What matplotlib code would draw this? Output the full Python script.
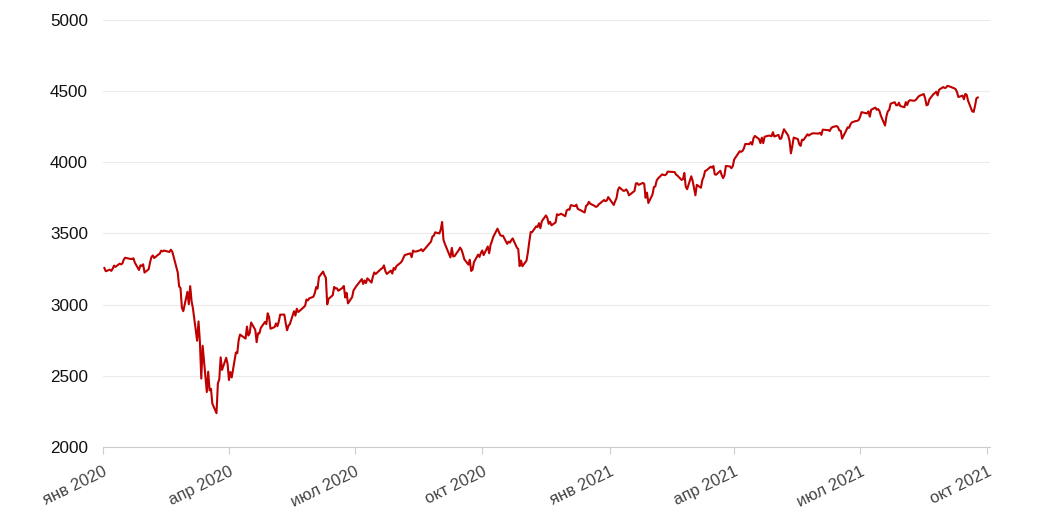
import matplotlib
matplotlib.use("Agg")
import matplotlib.pyplot as plt
import pandas as pd

# ---------------- data ----------------
start_date = "2020-01-02"
end_date = "2021-09-24"
market_holidays = ["2020-01-20", "2020-02-17", "2020-04-10", "2020-05-25", "2020-07-03",
                   "2020-09-07", "2020-11-26", "2020-12-25", "2021-01-01", "2021-01-18",
                   "2021-02-15", "2021-04-02", "2021-05-31", "2021-07-05", "2021-09-06"]

close_2020 = [
    # Jan
    3257.85, 3234.85, 3246.28, 3237.18, 3253.05, 3274.70, 3265.35, 3288.13, 3283.15, 3289.29,
    3316.81, 3329.62, 3320.79, 3321.75, 3325.54, 3295.47, 3243.63, 3276.24, 3273.40, 3283.66, 3225.52,
    # Feb
    3248.92, 3297.59, 3334.69, 3345.78, 3327.71, 3352.09, 3357.75, 3379.45, 3373.94, 3380.16,
    3370.29, 3386.15, 3373.23, 3337.75, 3225.89, 3128.21, 3116.39, 2978.76, 2954.22,
    # Mar
    3090.23, 3003.37, 3130.12, 3023.94, 2972.37, 2746.56, 2882.23, 2741.38, 2480.64, 2711.02,
    2386.13, 2529.19, 2398.10, 2409.39, 2304.92, 2237.40, 2447.33, 2475.56, 2630.07, 2541.47,
    2626.65, 2584.59,
    # Apr
    2470.50, 2526.90, 2488.65, 2663.68, 2659.41, 2749.98, 2789.82, 2761.63, 2846.06, 2783.36,
    2799.55, 2874.56, 2823.16, 2736.56, 2799.31, 2797.80, 2836.74, 2878.48, 2863.39, 2939.51, 2912.43,
    # May
    2830.71, 2842.74, 2868.44, 2848.42, 2881.19, 2929.80, 2930.32, 2870.12, 2820.00, 2852.50,
    2863.70, 2953.91, 2922.94, 2971.61, 2948.51, 2955.45, 2991.77, 3036.13, 3029.73, 3044.31,
    # Jun
    3055.73, 3080.82, 3122.87, 3112.35, 3193.93, 3232.39, 3207.18, 3190.14, 3002.10, 3041.31,
    3066.59, 3124.74, 3113.49, 3115.34, 3097.74, 3117.86, 3131.29, 3050.33, 3083.76, 3009.05,
    3053.24, 3100.29,
    # Jul
    3115.86, 3130.01, 3179.72, 3145.32, 3169.94, 3152.05, 3185.04, 3155.22, 3197.52, 3226.56,
    3215.57, 3224.73, 3251.84, 3257.30, 3276.02, 3235.66, 3215.63, 3239.41, 3218.44, 3258.44,
    3246.22, 3271.12,
    # Aug
    3294.61, 3306.51, 3327.77, 3349.16, 3351.28, 3360.47, 3333.69, 3380.35, 3373.43, 3372.85,
    3381.99, 3389.78, 3374.85, 3385.51, 3397.16, 3431.28, 3443.62, 3478.73, 3484.55, 3508.01, 3500.31,
    # Sep
    3526.65, 3580.84, 3455.06, 3426.96, 3331.84, 3398.96, 3339.19, 3340.97, 3383.54, 3401.20,
    3385.49, 3357.01, 3319.47, 3281.06, 3315.57, 3236.92, 3246.59, 3298.46, 3351.60, 3335.47, 3363.00,
    # Oct
    3380.80, 3348.42, 3408.60, 3360.97, 3419.44, 3446.83, 3477.14, 3534.22, 3511.93, 3488.67,
    3483.34, 3483.81, 3426.92, 3443.12, 3435.56, 3453.49, 3465.39, 3400.97, 3390.68, 3271.03,
    3310.11, 3269.96,
    # Nov
    3310.24, 3369.16, 3443.44, 3510.45, 3509.44, 3550.50, 3545.53, 3572.66, 3537.01, 3585.15,
    3626.91, 3609.53, 3567.79, 3581.87, 3557.54, 3577.59, 3635.41, 3629.65, 3638.35, 3621.63,
    # Dec
    3662.45, 3669.01, 3666.72, 3699.12, 3691.96, 3702.25, 3672.82, 3668.10, 3663.46, 3647.49,
    3694.62, 3701.17, 3722.48, 3709.41, 3694.92, 3687.26, 3690.01, 3703.06, 3735.36, 3727.04,
    3732.04, 3756.07,
]

close_2021 = [
    # Jan
    3700.65, 3726.86, 3748.14, 3803.79, 3824.68, 3799.61, 3801.19, 3809.84, 3795.54, 3768.25,
    3798.91, 3851.85, 3853.07, 3841.47, 3855.36, 3849.62, 3750.77, 3787.38, 3714.24,
    # Feb
    3773.86, 3826.31, 3830.17, 3871.74, 3886.83, 3915.59, 3911.23, 3909.88, 3916.38, 3934.83,
    3932.59, 3931.33, 3913.97, 3906.71, 3876.50, 3881.37, 3925.43, 3829.34, 3811.15,
    # Mar
    3901.82, 3870.29, 3819.72, 3768.47, 3841.94, 3821.35, 3875.44, 3898.81, 3939.34, 3943.34,
    3968.94, 3962.71, 3974.12, 3915.46, 3913.10, 3940.59, 3910.52, 3889.14, 3909.52, 3974.54,
    3971.09, 3958.55, 3972.89,
    # Apr
    4019.87, 4077.91, 4073.94, 4079.95, 4097.17, 4128.80, 4127.99, 4141.59, 4124.66, 4170.42,
    4185.47, 4163.26, 4134.94, 4173.42, 4134.98, 4180.17, 4187.62, 4186.72, 4183.18, 4211.47, 4181.17,
    # May
    4192.66, 4164.66, 4167.59, 4201.62, 4232.60, 4188.43, 4152.10, 4063.04, 4112.50, 4173.85,
    4163.29, 4127.83, 4115.68, 4159.12, 4155.86, 4197.05, 4188.13, 4195.99, 4200.88, 4204.11,
    # Jun
    4202.04, 4208.12, 4192.85, 4229.89, 4226.52, 4227.26, 4219.55, 4239.18, 4247.44, 4255.15,
    4246.59, 4223.70, 4221.86, 4166.45, 4224.79, 4246.44, 4241.84, 4266.49, 4280.70, 4290.61,
    4291.80, 4297.50,
    # Jul
    4319.94, 4352.34, 4343.54, 4358.13, 4320.82, 4369.55, 4384.63, 4369.21, 4374.30, 4360.03,
    4327.16, 4258.49, 4323.06, 4358.69, 4367.48, 4411.79, 4422.30, 4401.46, 4400.64, 4419.15, 4395.26,
    # Aug
    4387.16, 4423.15, 4402.66, 4429.10, 4436.52, 4432.35, 4436.75, 4447.70, 4460.83, 4468.00,
    4479.71, 4448.08, 4400.27, 4405.80, 4441.67, 4479.53, 4486.23, 4496.19, 4470.00, 4509.37,
    4528.79, 4522.68,
    # Sep
    4524.09, 4536.95, 4535.43, 4520.03, 4514.07, 4493.28, 4458.58, 4468.73, 4443.05, 4480.70,
    4473.75, 4432.99, 4357.73, 4354.19, 4395.64, 4448.98, 4455.48,
]

tick_dates = ["2020-01-01", "2020-04-01", "2020-07-01", "2020-10-01",
              "2021-01-01", "2021-04-01", "2021-07-01", "2021-10-01"]
tick_labels = ["янв 2020", "апр 2020", "июл 2020", "окт 2020",
               "янв 2021", "апр 2021", "июл 2021", "окт 2021"]
y_ticks = [2000, 2500, 3000, 3500, 4000, 4500, 5000]

# ---------------- build ----------------
bday = pd.offsets.CustomBusinessDay(holidays=market_holidays)
dates = pd.date_range(start_date, end_date, freq=bday)
values = close_2020 + close_2021
n = min(len(dates), len(values))
dates = dates[:n]
values = values[:n]

plt.rcParams['font.family'] = ['Liberation Sans', 'DejaVu Sans']

fig = plt.figure(figsize=(10.5, 5.24), dpi=100)
ax = fig.add_axes([103 / 1050, 1 - 447 / 524, (990 - 103) / 1050, (447 - 20) / 524])

ax.plot(dates, values, color="#c00000", linewidth=1.5, solid_joinstyle="round", zorder=3)

ax.set_ylim(2000, 5000)
ax.set_xlim(pd.Timestamp("2020-01-01"), pd.Timestamp("2021-10-02 20:00"))

ax.set_yticks(y_ticks)
ax.set_yticklabels([str(v) for v in y_ticks], fontsize=12.3, color="#111111")
ax.tick_params(axis="y", length=0, pad=10.8)
ax.yaxis.grid(True, color="#ebebeb", linewidth=0.8)
ax.set_axisbelow(True)

ax.set_xticks([pd.Timestamp(d) for d in tick_dates])
ax.set_xticklabels(tick_labels, fontsize=12, color="#444444",
                   rotation=26, ha="right", rotation_mode="anchor")
ax.tick_params(axis="x", length=5, width=0.8, color="#cccccc", pad=7)

for s in ["top", "right", "left"]:
    ax.spines[s].set_visible(False)
ax.spines["bottom"].set_color("#cccccc")
ax.spines["bottom"].set_linewidth(0.8)

fig.savefig("out.png", dpi=100, facecolor="white")
